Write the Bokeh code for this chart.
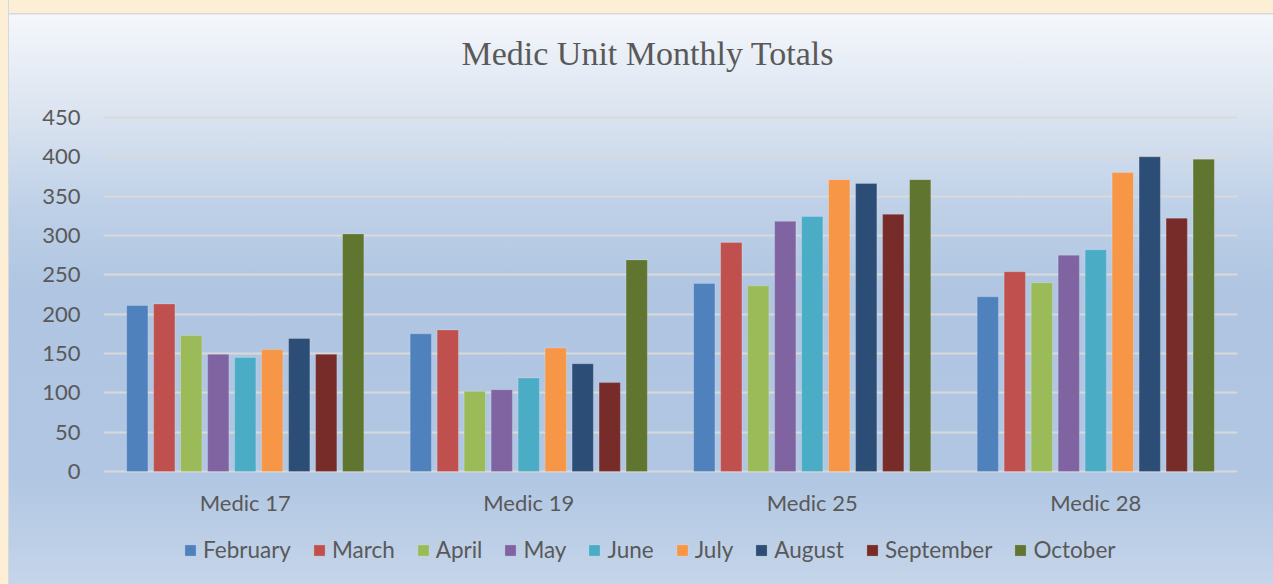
from bokeh.plotting import figure
from bokeh.models import ColumnDataSource, FactorRange, Legend, LegendItem, FixedTicker
from bokeh.transform import dodge
from bokeh.core.properties import value
from bokeh.embed import file_html
from bokeh.resources import INLINE

units = ["Medic 17", "Medic 19", "Medic 25", "Medic 28"]
months = ["February", "March", "April", "May", "June", "July", "August", "September", "October"]
february = [211, 175, 239, 222]
march = [213, 180, 291, 254]
april = [173, 102, 236, 240]
may = [149, 104, 318, 275]
june = [145, 119, 324, 282]
july = [155, 157, 371, 380]
august = [169, 137, 366, 400]
september = [149, 113, 327, 322]
october = [302, 269, 371, 397]
series = [february, march, april, may, june, july, august, september, october]
colors = ["#4F81BD", "#C0504D", "#9BBB59", "#8064A2", "#4BACC6",
          "#F79646", "#2C4D75", "#772C2A", "#5F7530"]
y_ticks = [0, 50, 100, 150, 200, 250, 300, 350, 400, 450]

data = {"unit": units}
for m, s in zip(months, series):
    data[m] = s
source = ColumnDataSource(data)

TXT = "#595959"
# frame extends to the bottom so the category labels and legend sit inside it
p = figure(x_range=FactorRange(*units), y_range=(-143.64, 471.61),
           width=1273, height=584, output_backend="svg", toolbar_location=None,
           min_border_left=103, min_border_right=36, min_border_top=100, min_border_bottom=0)
p.styles = {"background": "linear-gradient(to right, #FCEFD6 0px, #FCEFD6 8px, #D5D8DD 8px, #D5D8DD 9px, rgba(0,0,0,0) 9px), "
                          "linear-gradient(to bottom, #FCEFD6 0px, #FCEFD6 13px, #D5D8DD 13px, #D5D8DD 14px, "
                          "#F4F7FB 15px, #DAE3F0 117px, #BFD1E8 205px, #AFC5E1 290px, #B0C6E2 475px, #C5D5EA 584px)"}
p.background_fill_alpha = 0
p.border_fill_alpha = 0
p.outline_line_color = None

p.title.text = "Medic Unit Monthly Totals"
p.title.text_font = "Liberation Serif"
p.title.text_font_size = "34px"
p.title.text_font_style = "normal"
p.title.text_color = TXT
p.title.align = "left"
p.title.offset = 358
p.title.standoff = 57

step = 0.0952
width = 0.075
items = []
for i, (m, c) in enumerate(zip(months, colors)):
    r = p.vbar(x=dodge("unit", (i - 4) * step, range=p.x_range), top=m, width=width,
               source=source, fill_color=c, line_color="white", line_alpha=0.2, line_width=1)
    items.append(LegendItem(label=m, renderers=[r]))

# category labels
p.text(x=units, y=[-39.4] * len(units), text=units, text_align="center", text_baseline="middle",
       text_font=value("Lato"), text_font_size="22px", text_color=TXT)

p.xgrid.grid_line_color = None
p.ygrid.grid_line_color = "#D9D9D9"
p.ygrid.grid_line_width = 2
p.xaxis.visible = False
p.yaxis.ticker = FixedTicker(ticks=y_ticks)
ax = p.yaxis[0]
ax.axis_line_color = None
ax.major_tick_line_color = None
ax.minor_tick_line_color = None
ax.major_label_text_font = "Lato"
ax.major_label_text_font_size = "22px"
ax.major_label_text_color = TXT
ax.major_label_standoff = 17

legend = Legend(items=items, orientation="horizontal", location=(80, 21),
                glyph_width=14, glyph_height=14, label_standoff=6, spacing=21, label_height=25,
                label_text_font="Lato", label_text_font_size="22.5px", label_text_color=TXT,
                background_fill_alpha=0, border_line_alpha=0, margin=0, padding=0)
p.add_layout(legend, "center")

open("out.html", "w").write(file_html(p, INLINE))
